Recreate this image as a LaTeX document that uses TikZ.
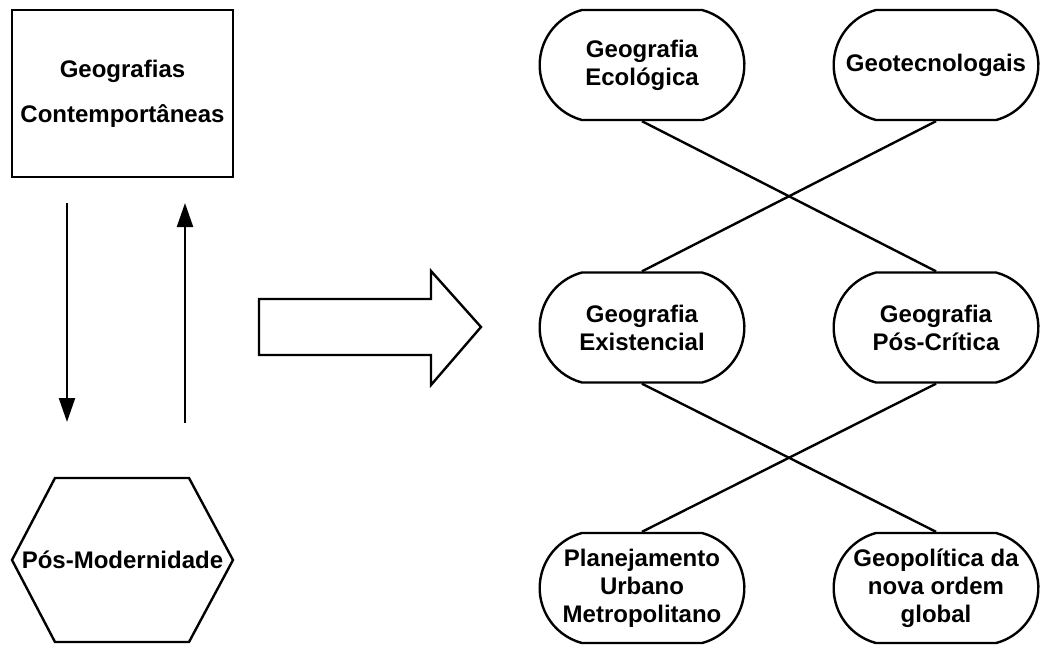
\documentclass[tikz,border=0pt]{standalone}
\usepackage{fontspec}
\setmainfont{Liberation Sans}
\usetikzlibrary{shapes.misc,arrows.meta}

\tikzstyle{framebox} = [rectangle, minimum width=110.5pt, minimum height=83.5pt, align=center, draw=black, line width=1.3pt, font=\bfseries\fontsize{12}{14}\selectfont]
\tikzstyle{label} = [inner sep=0pt, font=\bfseries\fontsize{12}{14}\selectfont]
\tikzstyle{topic} = [rounded rectangle, rounded rectangle arc length=150, minimum width=109pt, minimum height=55pt, align=center, draw=black, line width=1.2pt, font=\bfseries\fontsize{12}{14}\selectfont]
\tikzstyle{outline} = [line width=1.2pt, line join=miter]
\tikzstyle{link} = [line width=1.2pt]
\tikzstyle{arrow} = [line width=1.1pt,-{Triangle[length=12pt,width=8pt]}]

\begin{document}
\begin{tikzpicture}[x=0.5pt,y=-0.5pt]
	\useasboundingbox (0,0) rectangle (1054,644);

	\node (geo) [framebox] at (122.5,93.5) {Geografias\\[8.5pt]Contemportâneas};
	\node (posmod) [label] at (122.5,560) {Pós-Modernidade};
	\draw [outline] (12,560) -- (55,478) -- (189,478) -- (233,560) -- (189,642) -- (55,642) -- cycle;

	\coordinate (downtop) at (67,203);
	\coordinate (downend) at (67,422);
	\coordinate (upstart) at (185,423);
	\coordinate (uptop) at (185,203);
	\draw [arrow] (downtop) -- (downend);
	\draw [arrow] (upstart) -- (uptop);

	\draw [outline] (259,299) -- (431,299) -- (431,271) -- (481,327) -- (431,385) -- (431,355) -- (259,355) -- cycle;

	\node (eco) [topic] at (642,65) {Geografia\\Ecológica};
	\node (tec) [topic] at (936,65) {Geotecnologais};
	\node (exi) [topic] at (642,327.5) {Geografia\\Existencial};
	\node (crit) [topic] at (936,327.5) {Geografia\\Pós-Crítica};
	\node (pla) [topic] at (642,588) {Planejamento\\Urbano\\Metropolitano};
	\node (gpo) [topic] at (936,588) {Geopolítica da\\nova ordem\\global};

	\draw [link] (eco.south) -- (crit.north);
	\draw [link] (tec.south) -- (exi.north);
	\draw [link] (exi.south) -- (gpo.north);
	\draw [link] (crit.south) -- (pla.north);
\end{tikzpicture}
\end{document}
